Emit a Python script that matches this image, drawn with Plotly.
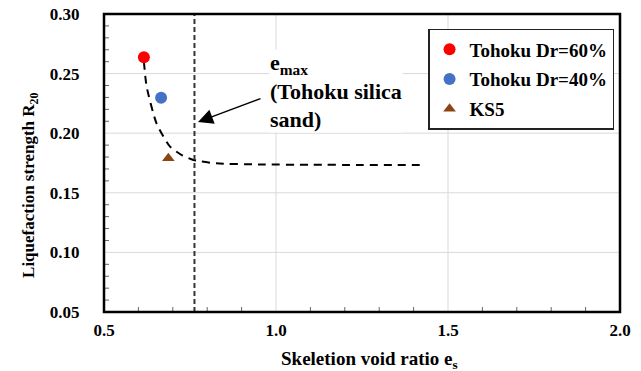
import plotly.graph_objects as go

# Data
series_names = ["Tohoku Dr=60%", "Tohoku Dr=40%", "KS5"]
series_x = [[0.616], [0.666], [0.687]]
series_y = [[0.2637], [0.2298], [0.179]]
series_colors = ["#FF0000", "#4472C4", "#8B4513"]
series_symbols = ["circle", "circle", "triangle-up"]

curve_x = [0.616, 0.624, 0.653, 0.692, 0.726, 0.760, 0.827, 0.95, 1.10, 1.25, 1.433]
curve_y = [0.2600, 0.2390, 0.2080, 0.1887, 0.1817, 0.1775, 0.1747, 0.1738, 0.1735, 0.1734, 0.1734]

emax_x = 0.763

x_range = [0.5, 2.0]
y_range = [0.05, 0.30]
x_ticks = [0.5, 1.0, 1.5, 2.0]
x_tick_labels = ["0.5", "1.0", "1.5", "2.0"]
y_ticks = [0.05, 0.10, 0.15, 0.20, 0.25, 0.30]
y_tick_labels = ["0.05", "0.10", "0.15", "0.20", "0.25", "0.30"]
x_minor = [0.6, 0.7, 0.8, 0.9, 1.1, 1.2, 1.3, 1.4, 1.6, 1.7, 1.8, 1.9]
y_minor = [0.06, 0.07, 0.08, 0.09, 0.11, 0.12, 0.13, 0.14, 0.16, 0.17, 0.18, 0.19,
           0.21, 0.22, 0.23, 0.24, 0.26, 0.27, 0.28, 0.29]

FONT = "Liberation Serif, Times New Roman, serif"
SOLID = "3000px,1px"  # effectively solid stroke

fig = go.Figure()

# gridlines at interior major ticks
for v in x_ticks[1:-1]:
    fig.add_shape(type="line", xref="x", yref="paper", x0=v, x1=v, y0=0, y1=1, layer="below",
                  line=dict(color="#D9D9D9", width=1, dash=SOLID))
for v in y_ticks[1:-1]:
    fig.add_shape(type="line", xref="paper", yref="y", x0=0, x1=1, y0=v, y1=v, layer="below",
                  line=dict(color="#D9D9D9", width=1, dash=SOLID))

# minor ticks (inside)
for v in x_minor:
    fig.add_shape(type="line", xref="x", yref="paper", ysizemode="pixel", yanchor=0, x0=v, x1=v, y0=0, y1=5,
                  line=dict(color="#666", width=1, dash=SOLID))
for v in y_minor:
    fig.add_shape(type="line", xref="paper", yref="y", xsizemode="pixel", xanchor=0, x0=0, x1=5, y0=v, y1=v,
                  line=dict(color="#666", width=1, dash=SOLID))

# emax vertical line
fig.add_shape(type="line", xref="x", yref="paper", x0=emax_x, x1=emax_x, y0=0, y1=1,
              line=dict(color="#333", width=2, dash="5px,3px"))

# plot frame
fig.add_shape(type="rect", xref="paper", yref="paper", x0=0, x1=1, y0=0, y1=1,
              line=dict(color="black", width=2.5, dash=SOLID))

fig.add_trace(go.Scatter(x=curve_x, y=curve_y, mode="lines",
                         line=dict(color="black", width=2, dash="8px,6px", shape="spline", smoothing=0.6),
                         showlegend=False, hoverinfo="skip"))

for name, xs, ys, col, sym in zip(series_names, series_x, series_y, series_colors, series_symbols):
    fig.add_trace(go.Scatter(x=xs, y=ys, mode="markers", name=name, legendgroup=name,
                             marker=dict(color=col, symbol=sym, size=12 if sym == "circle" else 11)))

fig.add_annotation(x=0.98, y=0.2354, xref="x", yref="y", xanchor="left", yanchor="middle", showarrow=False,
                   align="left", bgcolor="white", borderpad=0,
                   text="<b>e<sub>max</sub><br>(Tohoku silica<br>sand)</b>",
                   font=dict(family=FONT, size=22, color="black"))
fig.add_annotation(x=0.7733, y=0.2094, ax=0.9593, ay=0.2295, xref="x", yref="y", axref="x", ayref="y",
                   showarrow=True, arrowhead=2, arrowsize=2, arrowwidth=1.5, arrowcolor="black", text="")

# axis titles
fig.add_annotation(x=0.5155, y=-0.16, xref="paper", yref="paper", xanchor="center", yanchor="middle",
                   showarrow=False, text="<b>Skeletion void ratio e<sub>s</sub></b>",
                   font=dict(family=FONT, size=19, color="black"))
fig.add_annotation(x=-0.1434, y=0.423, xref="paper", yref="paper", xanchor="center", yanchor="middle",
                   showarrow=False, textangle=-90, text="<b>Liquefaction strength R<sub>20</sub></b>",
                   font=dict(family=FONT, size=17, color="black"))

fig.update_layout(
    width=633, height=363,
    margin=dict(l=96, r=21, t=6, b=59, autoexpand=False),
    paper_bgcolor="white", plot_bgcolor="white",
    font=dict(family=FONT, color="black"),
    legend=dict(x=0.628, y=0.95, xanchor="left", yanchor="top", bgcolor="white",
                bordercolor="#222", borderwidth=1.5,
                font=dict(family=FONT, size=19, color="black", weight="bold"),
                tracegroupgap=2),
    xaxis=dict(range=x_range, tickmode="array", tickvals=x_ticks, ticktext=x_tick_labels,
               showgrid=False, showline=False, zeroline=False, ticklabeloverflow="allow",
               ticks="outside", ticklen=3, tickcolor="white",
               tickfont=dict(family=FONT, size=17, color="black", weight="bold")),
    yaxis=dict(range=y_range, tickmode="array", tickvals=y_ticks, ticktext=y_tick_labels,
               showgrid=False, showline=False, zeroline=False, ticklabeloverflow="allow",
               ticks="outside", ticklen=20, tickcolor="white",
               tickfont=dict(family=FONT, size=17, color="black", weight="bold")),
)

fig.write_html("out.html")
